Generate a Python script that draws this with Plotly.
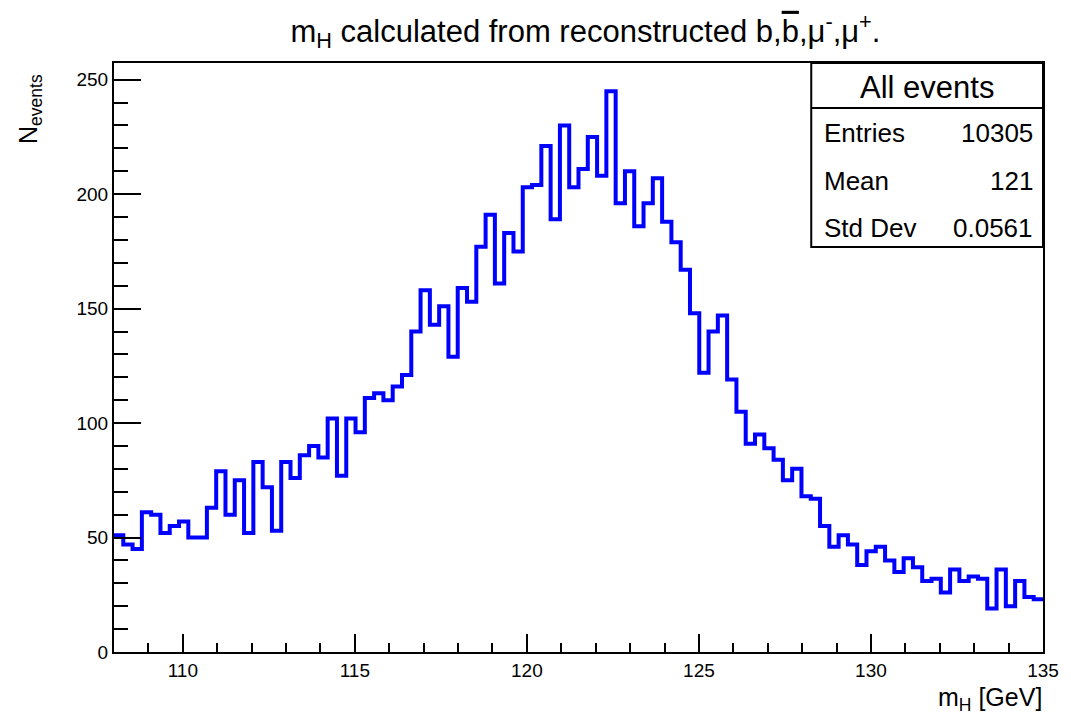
import plotly.graph_objects as go

# Histogram binning
X_MIN, X_MAX, N_BINS = 108.0, 135.0, 100

# Bin contents (events per bin), left to right
counts = [
    51, 47, 45, 61, 60, 52, 55, 57, 50, 50,
    63, 79, 60, 75, 52, 83, 72, 53, 83, 76,
    86, 90, 85, 102, 77, 102, 96, 111, 113, 110,
    116, 121, 140, 158, 143, 151, 129, 159, 153, 177,
    191, 161, 183, 175, 203, 204, 221, 189, 230, 203,
    211, 225, 208, 245, 196, 210, 186, 196, 207, 188,
    179, 167, 148, 122, 140, 147, 119, 105, 91, 95,
    89, 84, 75, 80, 68, 67, 55, 46, 51, 47,
    38, 44, 46, 40, 35, 41, 37, 31, 32, 26,
    36, 31, 33, 32, 19, 36, 20, 31, 24, 23,
]

x_tick_vals = [110, 115, 120, 125, 130, 135]
y_tick_vals = [0, 50, 100, 150, 200, 250]

stats_title = "All events"
stats_names = ["Entries", "Mean", "Std Dev"]
stats_values = ["10305", "121", "0.0561"]

FONT = "Liberation Sans, Arial, Helvetica, sans-serif"
W, H = 1071, 720
# frame in screen pixels
FR_L, FR_R, FR_T, FR_B = 114, 1052, 63, 652
Y_MAX = 257.3

bin_w = (X_MAX - X_MIN) / N_BINS
edges = [X_MIN + i * bin_w for i in range(N_BINS + 1)]
step_y = counts + [counts[-1]]

fig = go.Figure()
fig.add_trace(go.Scatter(
    x=edges, y=step_y, mode="lines",
    line=dict(color="#0000ff", width=4, shape="hv"),
    showlegend=False, hoverinfo="skip",
))


def px(xp):
    return (xp - FR_L) / (FR_R - FR_L)


def py(yp):
    return (FR_B - yp) / (FR_B - FR_T)


fig.update_layout(
    width=W, height=H,
    margin=dict(l=FR_L, r=W - FR_R, t=FR_T, b=H - FR_B, pad=0),
    paper_bgcolor="white", plot_bgcolor="white",
    font=dict(family=FONT, color="black"),
    title=dict(
        text="m<sub>H</sub> calculated from reconstructed b,"
             "<span style=\"text-decoration:overline\">b</span>,"
             "μ<sup>-</sup>,μ<sup>+</sup>.",
        x=px(590), xref="paper", xanchor="center", y=0.957, yanchor="middle",
        font=dict(size=31, family=FONT),
    ),
    xaxis=dict(
        range=[X_MIN, X_MAX], showgrid=False, zeroline=False,
        showline=True, linecolor="black", linewidth=2, mirror=True,
        ticks="inside", ticklen=18, tickwidth=2, tickcolor="black",
        tickvals=x_tick_vals, ticktext=[str(v) for v in x_tick_vals],
        tickfont=dict(size=19, family=FONT),
        minor=dict(dtick=1, ticks="inside", ticklen=9, tickwidth=2, tickcolor="black"),
    ),
    yaxis=dict(
        range=[0, Y_MAX], showgrid=False, zeroline=False,
        showline=True, linecolor="black", linewidth=2, mirror=True,
        ticks="inside", ticklen=27, tickwidth=2, tickcolor="black",
        tickvals=y_tick_vals, ticktext=[str(v) for v in y_tick_vals],
        tickfont=dict(size=19, family=FONT),
        minor=dict(dtick=10, ticks="inside", ticklen=14, tickwidth=2, tickcolor="black"),
    ),
)

# Axis titles
fig.add_annotation(
    text="N<sub>events</sub>", xref="paper", yref="paper",
    x=px(11), y=py(72), xanchor="left", yanchor="top",
    textangle=-90, showarrow=False, font=dict(size=25, family=FONT),
)
fig.add_annotation(
    text="m<sub>H</sub> [GeV]", xref="paper", yref="paper",
    x=px(1053), y=py(681), xanchor="right", yanchor="top",
    showarrow=False, font=dict(size=25, family=FONT),
)

# Statistics box
box_l, box_r, box_t, box_b, box_sep = 818, 1052, 63, 247, 108
fig.add_shape(type="rect", xref="paper", yref="paper",
              x0=px(box_l), x1=px(box_r), y0=py(box_b), y1=py(box_t),
              line=dict(color="black", width=2), fillcolor="white", layer="above")
fig.add_shape(type="line", xref="paper", yref="paper",
              x0=px(box_l), x1=px(box_r), y0=py(box_sep), y1=py(box_sep),
              line=dict(color="black", width=2), layer="above")
fig.add_annotation(text=stats_title, xref="paper", yref="paper",
                   x=px((box_l + box_r) / 2), y=py(88), xanchor="center", yanchor="middle",
                   showarrow=False, font=dict(size=31, family=FONT))
row_y = [133, 181, 228]
for name, val, yy in zip(stats_names, stats_values, row_y):
    fig.add_annotation(text=name, xref="paper", yref="paper",
                       x=px(829), y=py(yy), xanchor="left", yanchor="middle",
                       showarrow=False, font=dict(size=26, family=FONT))
    fig.add_annotation(text=val, xref="paper", yref="paper",
                       x=px(1044), y=py(yy), xanchor="right", yanchor="middle",
                       showarrow=False, font=dict(size=26, family=FONT))

fig.write_html("out.html")
